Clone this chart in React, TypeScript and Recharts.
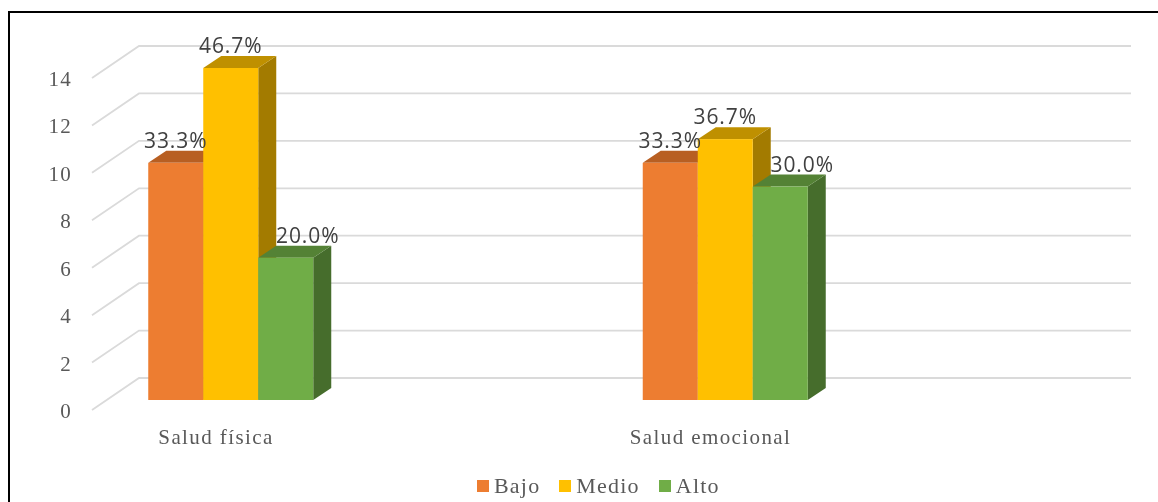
import { BarChart, Bar, XAxis, YAxis, CartesianGrid, Legend, LabelList } from "recharts";

const categories = ["Salud física", "Salud emocional"];
const bajo = [10, 10];
const medio = [14, 11];
const alto = [6, 9];
const bajoPct = ["33.3%", "33.3%"];
const medioPct = ["46.7%", "36.7%"];
const altoPct = ["20.0%", "30.0%"];
const yTicks = [0, 2, 4, 6, 8, 10, 12, 14];

const data = categories.map((name, i) => ({
  name,
  bajo: bajo[i],
  medio: medio[i],
  alto: alto[i],
  bajoPct: bajoPct[i],
  medioPct: medioPct[i],
  altoPct: altoPct[i],
}));

const SERIF = "'Liberation Serif', serif";
const SANS = "'Open Sans', sans-serif";
const DX = 18;
const DY = 12;

// extruded bar, the picture is a fake-3D excel column
function bar3d(topColor: string, sideColor: string) {
  return (props: any) => {
    const { x, y, width: w, height: h, fill } = props;
    return (
      <g>
        <polygon points={`${x + w},${y} ${x + w + DX},${y - DY} ${x + w + DX},${y + h - DY} ${x + w},${y + h}`} fill={sideColor} />
        <polygon points={`${x},${y} ${x + DX},${y - DY} ${x + w + DX},${y - DY} ${x + w},${y}`} fill={topColor} />
        <rect x={x} y={y} width={w} height={h} fill={fill} />
      </g>
    );
  };
}

// wall + floor line for each tick
function gridLine(props: any) {
  const { x1, x2, y1 } = props;
  return (
    <polyline
      key={`g-${y1}`}
      points={`${x1},${y1 + 10} ${x1 + 47},${y1 - 22} ${x2},${y1 - 22}`}
      fill="none"
      stroke="#DADADA"
      strokeWidth={1.8}
    />
  );
}

function LegendContent({ payload }: any) {
  return (
    <div style={{ display: "flex", alignItems: "center", fontFamily: SERIF, fontSize: 22, color: "#595959", letterSpacing: 1.2 }}>
      {(payload || []).map((p: any) => (
        <div key={p.value} style={{ display: "flex", alignItems: "center", marginRight: 19 }}>
          <span style={{ width: 12, height: 12, background: p.color, marginRight: 5, display: "inline-block" }} />
          {p.value}
        </div>
      ))}
    </div>
  );
}

const labelStyle = { fontFamily: SANS, fontSize: 21, fill: "#404040", letterSpacing: 0.9 };

export default function App() {
  return (
    <div style={{ position: "absolute", left: 0, top: 0, width: 1158, height: 502, background: "#fff", overflow: "hidden" }}>
      <div style={{ position: "absolute", left: 8, top: 11, width: 1150, height: 491, borderTop: "2px solid #000", borderLeft: "2px solid #000" }} />
      <div style={{ position: "absolute", left: 0, top: 0, filter: "blur(0.4px)" }}>
        <BarChart
          width={1158}
          height={502}
          data={data}
          barSize={55}
          barGap={0}
          margin={{ top: 68, right: 27, bottom: 32, left: 0 }}
        >
          <CartesianGrid vertical={false} horizontal={gridLine} />
          <XAxis
            dataKey="name"
            scale="point"
            padding={{ left: 138.5, right: 406 }}
            axisLine={false}
            tickLine={false}
            height={40}
            tick={{ fontFamily: SERIF, fontSize: 21, fill: "#595959", letterSpacing: 1.4, dx: -14.5, dy: 21 }}
          />
          <YAxis
            width={92}
            domain={[0, 14]}
            ticks={yTicks}
            axisLine={false}
            tickLine={false}
            interval={0}
            tick={{ fontFamily: SERIF, fontSize: 21, fill: "#595959", letterSpacing: 1.2, dx: -12, dy: 10.5 }}
          />
          <Legend
            height={30}
            content={<LegendContent />}
            itemSorter={null}
            wrapperStyle={{ left: 477, top: 473, width: 300, bottom: "auto" }}
          />
          <Bar dataKey="bajo" name="Bajo" fill="#ED7D31" isAnimationActive={false} shape={bar3d("#B85F22", "#AE5A21")}>
            <LabelList dataKey="bajoPct" position="top" offset={15} style={labelStyle} />
          </Bar>
          <Bar dataKey="medio" name="Medio" fill="#FFC000" isAnimationActive={false} shape={bar3d("#BF9000", "#A37B00")}>
            <LabelList dataKey="medioPct" position="top" offset={15} style={labelStyle} />
          </Bar>
          <Bar dataKey="alto" name="Alto" fill="#70AD47" isAnimationActive={false} shape={bar3d("#548235", "#466D2C")}>
            <LabelList dataKey="altoPct" position="top" offset={15} dx={22} style={labelStyle} />
          </Bar>
        </BarChart>
      </div>
    </div>
  );
}
